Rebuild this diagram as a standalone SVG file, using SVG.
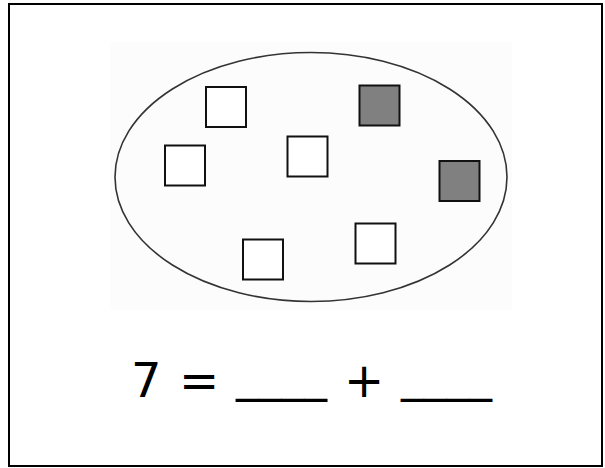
<svg xmlns="http://www.w3.org/2000/svg" width="605" height="468" viewBox="0 0 605 468">
  <style>
    .sq { fill: #ffffff; stroke: #111111; stroke-width: 2; }
    .sq.dark { fill: #808080; }
    .eq { font-family: "DejaVu Sans", Verdana, sans-serif; font-size: 48px; fill: #000000; }
  </style>
  <rect x="0" y="0" width="605" height="468" fill="#ffffff"/>
  <rect id="frame" x="9" y="4" width="593" height="462" fill="none" stroke="#000000" stroke-width="2"/>
  <g id="set">
    <rect x="110" y="42" width="402" height="268" fill="#fcfcfc"/>
    <ellipse cx="311" cy="177" rx="196" ry="124.5" fill="none" stroke="#333333" stroke-width="1.6"/>
  </g>
  <g id="square1"><rect class="sq" x="206" y="87" width="40" height="40"/></g>
  <g id="square2"><rect class="sq" x="165" y="145.5" width="40" height="40"/></g>
  <g id="square3"><rect class="sq" x="287.5" y="136.5" width="40" height="40"/></g>
  <g id="square4"><rect class="sq dark" x="359.5" y="85.5" width="40" height="40"/></g>
  <g id="square5"><rect class="sq dark" x="439.5" y="161" width="40" height="40"/></g>
  <g id="square6"><rect class="sq" x="243" y="239.5" width="40" height="40"/></g>
  <g id="square7"><rect class="sq" x="355.5" y="223.5" width="40" height="40"/></g>
  <g id="equation">
    <text class="eq" x="131" y="397">7</text>
    <text class="eq" x="179" y="397">=</text>
    <text class="eq" x="344" y="397">+</text>
    <text class="eq" x="236" y="390.5" textLength="91" lengthAdjust="spacingAndGlyphs">____</text>
    <text class="eq" x="401" y="390.5" textLength="91" lengthAdjust="spacingAndGlyphs">____</text>
  </g>
</svg>
